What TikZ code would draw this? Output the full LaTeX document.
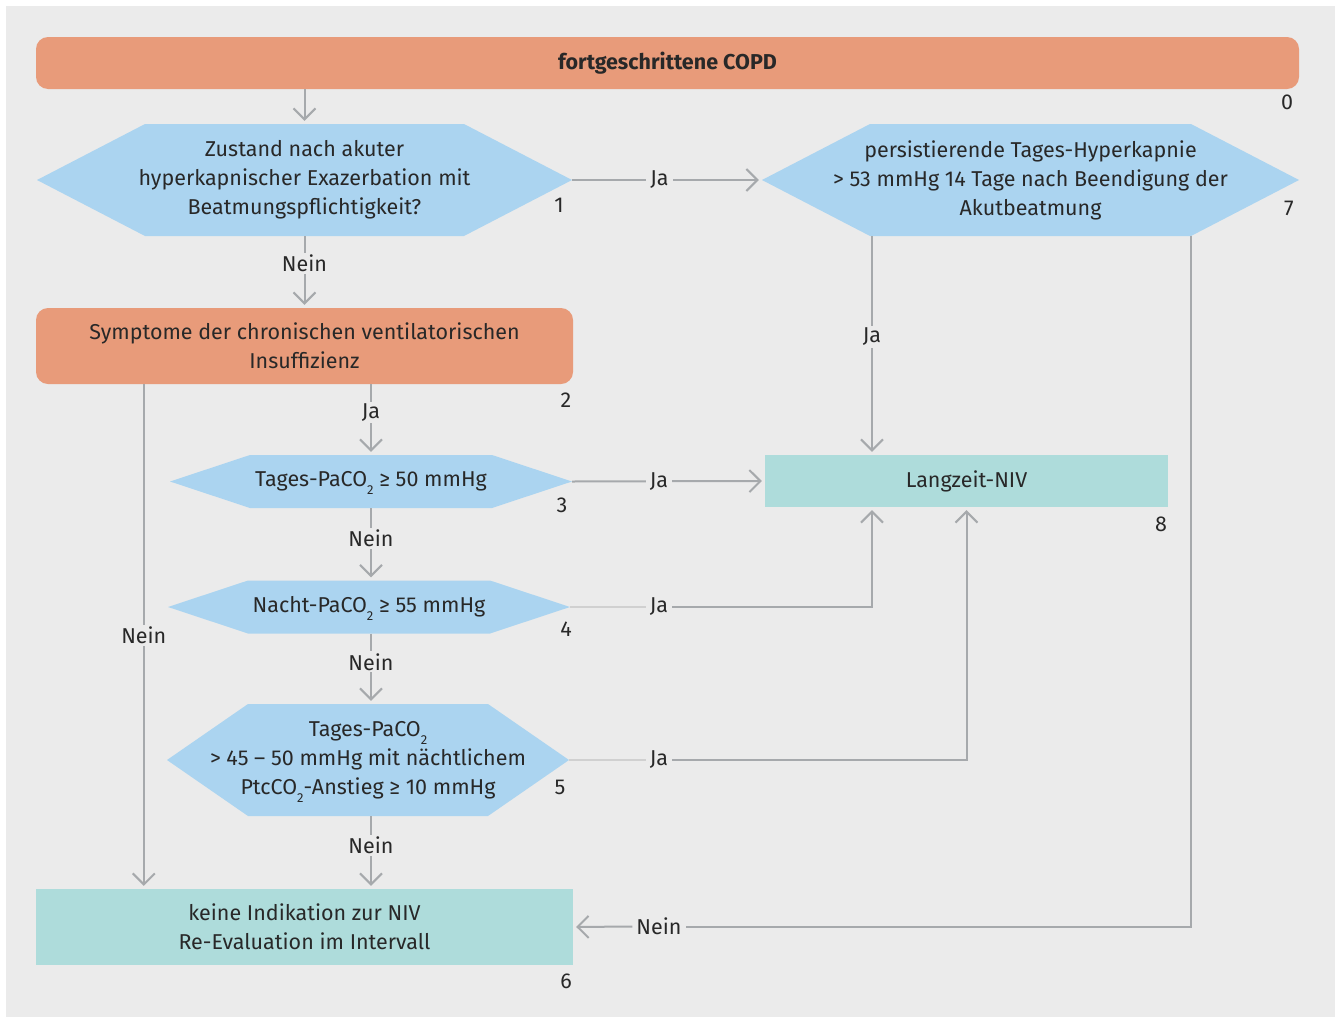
\documentclass[tikz,border=0pt]{standalone}
\usepackage{fontspec}
\setmainfont{Fira Sans}
\usetikzlibrary{arrows.meta,calc}
\definecolor{bggray}{RGB}{235,235,235}
\definecolor{boxorange}{RGB}{232,155,122}
\definecolor{hexblue}{RGB}{171,212,240}
\definecolor{boxteal}{RGB}{174,220,219}
\definecolor{linegray}{RGB}{166,169,172}
\definecolor{lightline}{RGB}{208,208,208}
\definecolor{txt}{RGB}{40,40,40}
\tikzset{
  base/.style={text=txt, font=\fontsize{21.5}{29}\selectfont, align=center, inner sep=0pt},
  orangebox/.style={base, fill=boxorange, rounded corners=12pt, minimum width=#1},
  tealbox/.style={base, fill=boxteal, minimum width=#1},
  hexa/.style={base, path picture={
      \fill[hexblue] (path picture bounding box.west)
        -- ([xshift=#1]path picture bounding box.north west)
        -- ([xshift=-#1]path picture bounding box.north east)
        -- (path picture bounding box.east)
        -- ([xshift=-#1]path picture bounding box.south east)
        -- ([xshift=#1]path picture bounding box.south west) -- cycle;}},
  conn/.style={draw=linegray, line width=2pt,
      -{Straight Barb[length=11pt,width=22pt,line width=2pt]}, shorten >=3pt},
  plain/.style={draw=linegray, line width=2pt},
  faint/.style={draw=lightline, line width=2pt},
  lbl/.style={base, fill=bggray, inner xsep=4pt, inner ysep=2pt},
  num/.style={base}
}
% lowered small index digit, as in CO2 (kept out of the line's height and depth)
\newcommand{\sub}[1]{\raisebox{-0.38em}[0pt][0pt]{\fontsize{13}{13}\selectfont #1}}
\begin{document}
\begin{tikzpicture}[x=1pt, y=-1pt]
  \useasboundingbox (0,0) rectangle (1335,1017);
  \fill[bggray] (6,6) rectangle (1335,1017);

  % boxes and decisions
  \node[orangebox=1263pt, minimum height=52pt] (b0) at (667.5,63) {\bfseries fortgeschrittene COPD};
  \node[hexa=108pt, minimum width=535pt, minimum height=112pt] (h1) at (304.5,180)
    {Zustand nach akuter\\hyperkapnischer Exazerbation mit\\Beatmungspflichtigkeit?};
  \node[hexa=108pt, minimum width=537pt, minimum height=112pt] (h7) at (1030.5,180)
    {persistierende Tages-Hyperkapnie\\> 53 mmHg 14 Tage nach Beendigung der\\Akutbeatmung};
  \node[orangebox=537pt, minimum height=76pt] (b2) at (304.5,346)
    {Symptome der chronischen ventilatorischen\\Insuffizienz};
  \node[hexa=80pt, minimum width=402pt, minimum height=53pt] (h3) at (371,481.5)
    {Tages-PaCO\sub{2} ≥ 50 mmHg};
  \node[tealbox=403pt, minimum height=52pt] (niv) at (966.5,481) {Langzeit-NIV};
  \node[hexa=80pt, minimum width=402pt, minimum height=53pt] (h4) at (369,607)
    {Nacht-PaCO\sub{2} ≥ 55 mmHg};
  \node[hexa=81pt, minimum width=402pt, minimum height=112pt] (h5) at (368,760)
    {Tages-PaCO\sub{2}\\> 45 – 50 mmHg mit nächtlichem\\PtcCO\sub{2}-Anstieg ≥ 10 mmHg};
  \node[tealbox=537pt, minimum height=76pt] (b6) at (304.5,927)
    {keine Indikation zur NIV\\Re-Evaluation im Intervall};

  % step numbers
  \node[num] (n0) at (1287,102) {0};
  \node[num] (n1) at (559,205) {1};
  \node[num] (n7) at (1289,208) {7};
  \node[num] (n2) at (566,400) {2};
  \node[num] (n3) at (562,505) {3};
  \node[num] (n8) at (1161,524) {8};
  \node[num] (n4) at (566,629) {4};
  \node[num] (n5) at (560,787) {5};
  \node[num] (n6) at (566,981) {6};

  % connectors
  \draw[conn] (h1.north |- b0.south) -- (h1.north);
  \draw[conn] (h1.east) -- node[lbl, pos=0.46] {Ja} (h7.west);
  \draw[conn] (h1.south) -- node[lbl, pos=0.38] {Nein} (b2.north);
  \draw[conn] (h3.north |- b2.south) -- node[lbl, pos=0.4] {Ja} (h3.north);
  \draw[conn] ([xshift=108pt]b2.south west) -- node[lbl, pos=0.498] {Nein} ([xshift=108pt]b6.north west);
  \draw[conn] (h3.east) -- node[lbl, pos=0.45] {Ja} (niv.west);
  \draw[conn] (h3.south) -- node[lbl, pos=0.42] {Nein} (h3.south |- h4.north);
  \draw[conn] (h3.south |- h4.south) -- node[lbl, pos=0.4] {Nein} (h3.south |- h5.north);
  \draw[conn] (h3.south |- h5.south) -- node[lbl, pos=0.4] {Nein} (h3.south |- b6.north);
  \draw[conn] ([xshift=-94.5pt]niv.north |- h7.south) -- node[lbl, pos=0.46] {Ja} ([xshift=-94.5pt]niv.north);

  % yes-branches of steps 4 and 5 run into the long-term box from below
  \node[lbl] (ja4) at (659,607) {Ja};
  \node[lbl] (ja5) at (659,760) {Ja};
  \draw[faint] (h4.east) -- (ja4.west);
  \draw[conn] (ja4.east) -| ([xshift=-94.5pt]niv.south);
  \draw[faint] (h5.east) -- (ja5.west);
  \draw[conn] (ja5.east) -| (niv.south);

  % no-branch of step 7 back to step 6
  \node[lbl] (nein7) at (659,926.5) {Nein};
  \draw[plain] ([xshift=160pt]h7.south) |- (nein7.east);
  \draw[conn] (nein7.west) -- (b6.east);
\end{tikzpicture}
\end{document}
